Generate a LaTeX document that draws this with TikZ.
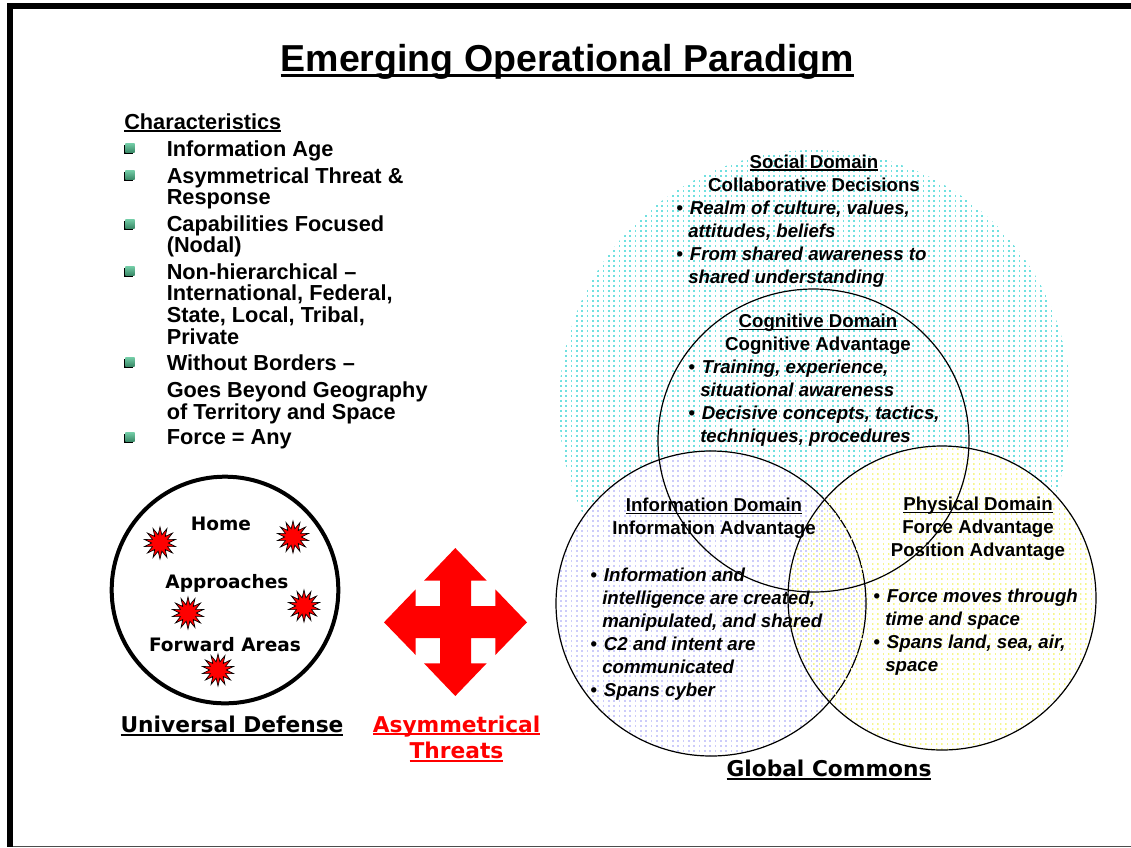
\documentclass[tikz,border=0pt]{standalone}
\usepackage{fontspec}
\setmainfont{Liberation Sans}
\newfontfamily\widefont{DejaVu Sans}
\usetikzlibrary{patterns,shadows,shapes.geometric}

\definecolor{socialdot}{HTML}{70E0E0}
\definecolor{infodot}{HTML}{CCCCFA}
\definecolor{physdot}{HTML}{F6F68C}
\definecolor{chipgreen}{HTML}{4FBF8F}

% dot screens of the domain circles, the second one shifted
\pgfdeclarepatternformonly{dotsA}{\pgfqpoint{-1pt}{-1pt}}{\pgfqpoint{3pt}{3pt}}{\pgfqpoint{4pt}{3.75pt}}{
  \pgfpathrectangle{\pgfqpoint{0pt}{0pt}}{\pgfqpoint{1.35pt}{1.35pt}}\pgfusepath{fill}}
\pgfdeclarepatternformonly{dotsB}{\pgfqpoint{-1pt}{-1pt}}{\pgfqpoint{3pt}{3pt}}{\pgfqpoint{4pt}{3.75pt}}{
  \pgfpathrectangle{\pgfqpoint{1.9pt}{1.8pt}}{\pgfqpoint{1.35pt}{1.35pt}}\pgfusepath{fill}}

\newcommand{\uln}[1]{\setbox0\hbox{#1}\rlap{\rule[-0.13em]{\wd0}{0.07em}}\box0}
\newcommand{\ind}{\hspace*{9pt}}
\newcommand{\bul}{•\hspace{5.4pt}}

\tikzset{
  domaincircle/.style={ellipse,draw,line width=0.9pt,inner sep=0pt},
  burst/.style={star,star points=14,star point ratio=1.9,draw,fill=red,line width=0.5pt,
    minimum size=24pt,inner sep=0pt},
  chip/.style={rectangle,minimum size=7pt,inner sep=0pt,top color=chipgreen!80,bottom color=chipgreen!70!black,
    drop shadow={shadow xshift=-1pt,shadow yshift=-1pt,fill=black,opacity=1}},
  itemtext/.style={anchor=north west,inner sep=0pt,align=left,font=\fontsize{16.3}{16.3}\selectfont\bfseries},
  headtext/.style={inner sep=0pt,align=center,font=\fontsize{14}{17.2}\selectfont\bfseries},
  bodytext/.style={anchor=north west,inner sep=0pt,align=left,font=\fontsize{14}{17.2}\selectfont\bfseries\itshape},
  widetext/.style={inner sep=0pt,align=center,font=\fontsize{13.9}{14}\selectfont\widefont\bfseries},
  widebig/.style={inner sep=0pt,align=center,font=\fontsize{16.3}{20}\selectfont\widefont\bfseries}
}

\begin{document}
\begin{tikzpicture}[x=0.75pt,y=-0.75pt]
    \useasboundingbox (0,0) rectangle (1131,847);

    % Slide frame
    \fill (7,3) rectangle (1131,9);
    \fill (7,3) rectangle (13,847);
    \fill[black!70] (13,846) rectangle (1131,847);

    % Title
    \node[inner sep=0pt,font=\fontsize{28.15}{30}\selectfont\bfseries] (title) at (567.5,62) {\uln{Emerging Operational Paradigm}};

    % Characteristics list
    \path
    (124,113) node[itemtext] (characteristics) {\uln{Characteristics}}
    (166.5,140) node[itemtext] (item1) {Information Age}
    (166.5,167) node[itemtext] (item2) {Asymmetrical Threat \&\\Response}
    (166.5,215) node[itemtext] (item3) {Capabilities Focused\\(Nodal)}
    (166.5,263) node[itemtext] (item4) {Non-hierarchical --\\International, Federal,\\State, Local, Tribal,\\Private}
    (166.5,354) node[itemtext] (item5) {Without Borders --\\[4.5pt]Goes Beyond Geography\\of Territory and Space}
    (166.5,429) node[itemtext] (item6) {Force = Any}
    (130,148) node[chip] (chip1) {}
    (130,175) node[chip] (chip2) {}
    (130,224) node[chip] (chip3) {}
    (130,271) node[chip] (chip4) {}
    (130,362) node[chip] (chip5) {}
    (130,437) node[chip] (chip6) {};

    % Universal defense
    \node[circle,draw,line width=3pt,minimum size=170pt,inner sep=0pt] (defense) at (225,590) {};
    \path
    (221,524) node[widetext] (home) {Home}
    (227,583) node[widetext] (approaches) {Approaches}
    (225,645) node[widetext] (forward) {Forward Areas}
    (160,543) node[burst] (burst1) {}
    (293,537) node[burst] (burst2) {}
    (188,613) node[burst] (burst3) {}
    (304,606) node[burst] (burst4) {}
    (218,670) node[burst] (burst5) {}
    (232,726) node[widebig] (universal) {\uln{Universal Defense}};

    % Asymmetrical threats
    \fill[red] (455.3,548) -- (486.7,580.7) -- (471,580.7) -- (471,606) -- (495.3,606) -- (495.3,589.3)
      -- (527,622.3) -- (495.3,655) -- (495.3,638) -- (471,638) -- (471,663.3) -- (486.7,663.3)
      -- (455.3,696) -- (424,663.3) -- (440,663.3) -- (440,638) -- (415.7,638) -- (415.7,655)
      -- (384,622.3) -- (415.7,589.3) -- (415.7,606) -- (440,606) -- (440,580.7) -- (424,580.7) -- cycle;
    \node[widebig,red] (threats) at (456.5,738.5) {\uln{Asymmetrical}\\[0pt]\uln{Threats}};

    % Domain circles
    \node[circle,minimum size=384pt,inner sep=0pt,pattern=dotsA,pattern color=socialdot] (social) at (815,406) {};
    \fill[white] (711,603.5) ellipse (155 and 152.5) (942,598) ellipse (154 and 152);
    \node[domaincircle,minimum width=232.5pt,minimum height=228.75pt,pattern=dotsA,pattern color=infodot] (information) at (711,603.5) {};
    \node[domaincircle,minimum width=231pt,minimum height=228pt,pattern=dotsB,pattern color=physdot] (physical) at (942,598) {};
    \node[domaincircle,minimum width=233.25pt,minimum height=227.25pt] (cognitive) at (813.5,440.5) {};

    % Social domain text
    \path
    (814,173) node[headtext] (socialhead) {\uln{Social Domain}\\Collaborative Decisions}
    (676,201) node[bodytext] (socialtext) {\bul Realm of culture, values,\\\ind attitudes, beliefs\\\bul From shared awareness to\\\ind shared understanding};

    % Cognitive domain text
    \path
    (818,334.5) node[headtext] (cognitivehead) {\uln{Cognitive Domain}\\Cognitive Advantage}
    (688,360) node[bodytext] (cognitivetext) {\bul Training, experience,\\\ind situational awareness\\\bul Decisive concepts, tactics,\\\ind techniques, procedures};

    % Information domain text
    \path
    (714,518.5) node[headtext] (informationhead) {\uln{Information Domain}\\Information Advantage}
    (590,568) node[bodytext] (informationtext) {\bul Information and\\\ind intelligence are created,\\\ind manipulated, and shared\\\bul C2 and intent are\\\ind communicated\\\bul Spans cyber};

    % Physical domain text
    \path
    (978,529) node[headtext] (physicalhead) {\uln{Physical Domain}\\Force Advantage\\Position Advantage}
    (873,589) node[bodytext] (physicaltext) {\bul Force moves through\\\ind time and space\\\bul Spans land, sea, air,\\\ind space};

    \node[widebig] (commons) at (829,770) {\uln{Global Commons}};
\end{tikzpicture}
\end{document}
